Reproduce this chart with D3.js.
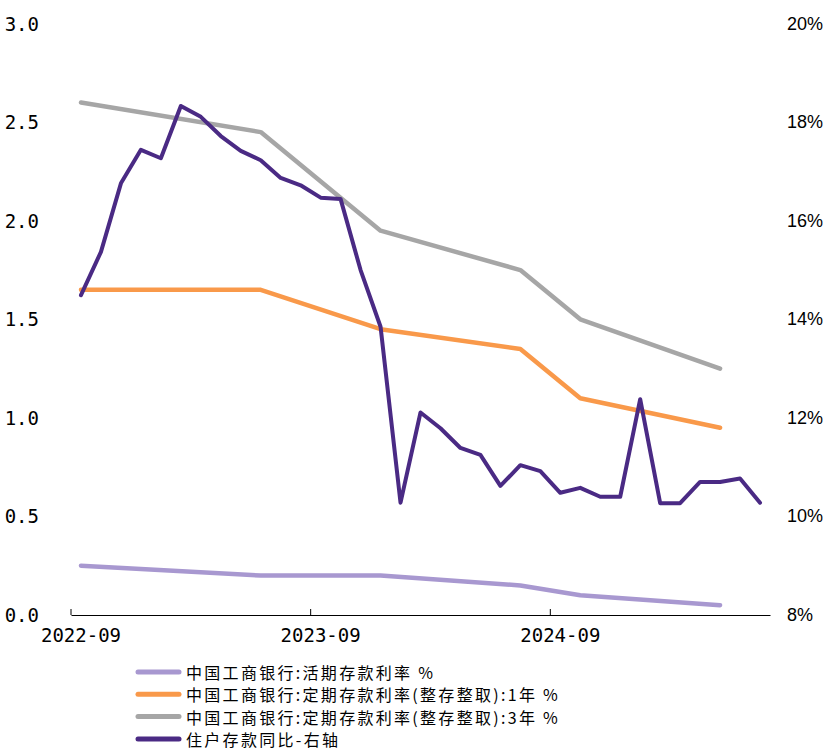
<!DOCTYPE html>
<html><head><meta charset="utf-8">
<script src="https://cdn.jsdelivr.net/npm/d3@7"></script>
<style>body{margin:0;background:#fff}svg{display:block}</style>
</head><body><svg id="c" width="827" height="752"></svg>
<script>
const months = ["2022-09","2022-10","2022-11","2022-12","2023-01","2023-02","2023-03","2023-04","2023-05","2023-06","2023-07","2023-08","2023-09","2023-10","2023-11","2023-12","2024-01","2024-02","2024-03","2024-04","2024-05","2024-06","2024-07","2024-08","2024-09","2024-10","2024-11","2024-12","2025-01","2025-02","2025-03","2025-04","2025-05","2025-06","2025-07"];
const xTickLabels = ["2022-09","2023-09","2024-09"];
const leftTicks = [0,0.5,1.0,1.5,2.0,2.5,3.0];
const rightTicks = [8,10,12,14,16,18,20];
// ICBC rates (%), only at months where a value is reported
const demandRate = [0.25,null,null,null,null,null,null,null,null,0.20,null,null,null,null,null,0.20,null,null,null,null,null,null,0.15,null,null,0.10,null,null,null,null,null,null,0.05,null,null];
const fixed1y    = [1.65,null,null,null,null,null,null,null,null,1.65,null,null,null,null,null,1.45,null,null,null,null,null,null,1.35,null,null,1.10,null,null,null,null,null,null,0.95,null,null];
const fixed3y    = [2.60,null,null,null,null,null,null,null,null,2.45,null,null,null,null,null,1.95,null,null,null,null,null,null,1.75,null,null,1.50,null,null,null,null,null,null,1.25,null,null];
// Household deposits YoY (%), right axis
const householdYoY = [14.49,15.37,16.76,17.44,17.27,18.33,18.11,17.72,17.42,17.23,16.87,16.72,16.47,16.44,15.00,13.85,10.28,12.11,11.79,11.39,11.25,10.62,11.04,10.92,10.48,10.58,10.40,10.40,12.38,10.27,10.27,10.70,10.70,10.77,10.28];
const seriesNames = ["中国工商银行:活期存款利率 %","中国工商银行:定期存款利率(整存整取):1年 %","中国工商银行:定期存款利率(整存整取):3年 %","住户存款同比-右轴"];
const colors = ["#a898d0","#f9994a","#a6a6a6","#4a2a84"];

const svg = d3.select("#c");
const x = d3.scaleBand().domain(months).range([71, 770]).padding(0);
const bw = x.bandwidth();
const cx = m => x(m) + bw/2;
const yL = d3.scaleLinear().domain([0,3]).range([615, 23.7]);
const yR = d3.scaleLinear().domain([8,20]).range([615, 23.7]);

// left labels
svg.append("g").selectAll("text").data(leftTicks).join("text")
  .attr("x", 39).attr("y", d => yL(d)).attr("text-anchor","end").attr("dominant-baseline","central")
  .attr("font-family","'DejaVu Sans Mono', monospace").attr("font-size",19).attr("fill","#000")
  .text(d => d.toFixed(1));
// right labels
svg.append("g").selectAll("text").data(rightTicks).join("text")
  .attr("x", 787).attr("y", d => yR(d)).attr("text-anchor","start").attr("dominant-baseline","central")
  .attr("font-family","'Liberation Sans', Arial, sans-serif").attr("font-size",18).attr("fill","#000")
  .text(d => d + "%");

// bottom axis
const ax = svg.append("g").attr("transform","translate(0,615)")
  .call(d3.axisBottom(x).tickValues(xTickLabels).tickSizeInner(-6).tickSizeOuter(0).tickPadding(14));
ax.select(".domain").attr("stroke","#000").attr("stroke-width",1.2);
ax.selectAll(".tick line").attr("transform", `translate(${-bw/2},0)`).attr("stroke","#000");
ax.selectAll(".tick text").attr("font-family","'DejaVu Sans Mono', monospace").attr("font-size",19).attr("fill","#000");

// lines
function drawLine(vals, yScale, color, w) {
  const pts = months.map((m,i) => [m, vals[i]]).filter(d => d[1] != null);
  const line = d3.line().x(d => cx(d[0])).y(d => yScale(d[1]));
  svg.append("path").datum(pts).attr("d", line).attr("fill","none")
    .attr("stroke", color).attr("stroke-width", w).attr("stroke-linecap","round").attr("stroke-linejoin","round");
}
drawLine(demandRate, yL, colors[0], 4.5);
drawLine(fixed1y, yL, colors[1], 4.5);
drawLine(fixed3y, yL, colors[2], 4.5);
drawLine(householdYoY, yR, colors[3], 4);

// legend
const lg = svg.append("g").selectAll("g").data(seriesNames).join("g")
  .attr("transform", (d,i) => `translate(0,${672 + i*22.3})`);
lg.append("line").attr("x1",138).attr("x2",179).attr("y1",0).attr("y2",0)
  .attr("stroke",(d,i)=>colors[i]).attr("stroke-width",5).attr("stroke-linecap","round");
lg.append("text").attr("x",186).attr("y",0).attr("dominant-baseline","central")
  .attr("font-family","'Noto Sans CJK SC', sans-serif").attr("font-size",16).attr("letter-spacing",2.3).attr("fill","#000")
  .text(d => d);
</script></body></html>
